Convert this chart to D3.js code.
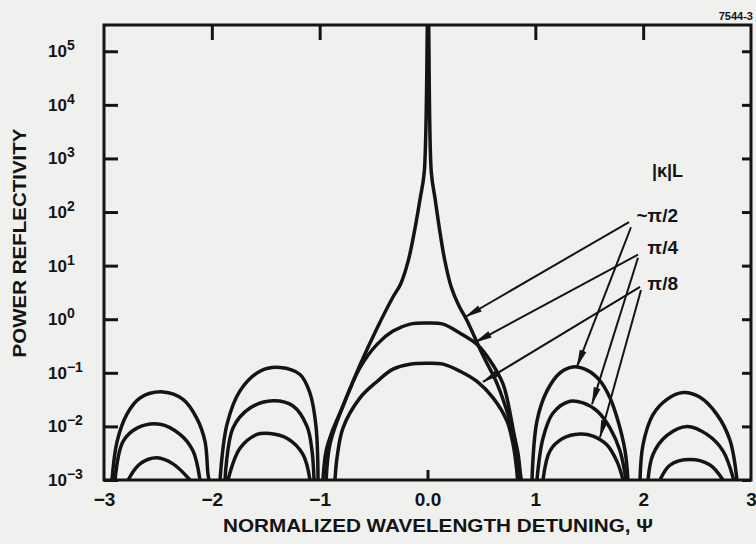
<!DOCTYPE html>
<html>
<head>
<meta charset="utf-8">
<script src="https://cdn.jsdelivr.net/npm/d3@7"></script>
<style>
    body { margin: 0; background: #f0f0ee; }
    svg { display: block; font-family: 'Liberation Sans', Arial, sans-serif; font-weight: bold; }
</style>
</head>
<body>
<svg id="drawing_region"></svg>
<script>
// tick values and labels
const psiTicks = [-3, -2, -1, 0, 1, 2, 3];
const psiTickLabels = ['\u22123', '\u22122', '\u22121', '0.0', '1', '2', '3'];
const reflTicks = [1e-3, 1e-2, 1e-1, 1e0, 1e1, 1e2, 1e3, 1e4, 1e5];
const reflExponents = ['\u22123', '\u22122', '\u22121', '0', '1', '2', '3', '4', '5'];

// |k|L values for the three curves
const kappaL = ['~\u03c0/2', '\u03c0/4', '\u03c0/8'];

// each curve, lobe by lobe: [psi, reflectivity]
const curvePi2 = [
    [[-2.926, 0.001], [-2.879, 0.0052], [-2.787, 0.017], [-2.666, 0.034], [-2.453, 0.044], [-2.267, 0.032], [-2.138, 0.014], [-2.063, 0.0052], [-2.036, 0.0013], [-2.026, 0.001]],
    [[-1.924, 0.001], [-1.859, 0.011], [-1.739, 0.046], [-1.553, 0.107], [-1.368, 0.126], [-1.182, 0.093], [-1.090, 0.042], [-1.034, 0.010], [-1.015, 0.001]],
    [[-0.970, 0.001], [-0.940, 0.0035], [-0.880, 0.0085], [-0.784, 0.024], [-0.626, 0.14], [-0.468, 0.68], [-0.320, 2.6], [-0.250, 4.5], [-0.180, 12], [-0.120, 45], [-0.070, 170], [-0.030, 560], [0.005, 1e6], [0.035, 560], [0.070, 178], [0.110, 50], [0.160, 12.6], [0.220, 4.0], [0.290, 1.8], [0.366, 0.95], [0.515, 0.21], [0.645, 0.063], [0.765, 0.0126], [0.835, 0.0035], [0.862, 0.0013], [0.870, 0.001]],
    [[0.969, 0.001], [1.015, 0.0126], [1.108, 0.046], [1.229, 0.100], [1.349, 0.129], [1.479, 0.112], [1.600, 0.071], [1.693, 0.034], [1.767, 0.0126], [1.832, 0.0035], [1.859, 0.001]],
    [[1.971, 0.001], [1.999, 0.0046], [2.091, 0.0166], [2.221, 0.032], [2.370, 0.043], [2.527, 0.035], [2.685, 0.0166], [2.805, 0.0055], [2.870, 0.001]]
];
const curvePi4 = [
    [[-2.898, 0.001], [-2.824, 0.0052], [-2.694, 0.0093], [-2.481, 0.011], [-2.295, 0.0071], [-2.175, 0.0035], [-2.110, 0.001]],
    [[-1.878, 0.001], [-1.804, 0.0093], [-1.646, 0.022], [-1.433, 0.030], [-1.247, 0.024], [-1.117, 0.010], [-1.071, 0.0035], [-1.052, 0.001]],
    [[-0.940, 0.001], [-0.904, 0.0047], [-0.784, 0.024], [-0.626, 0.125], [-0.468, 0.34], [-0.320, 0.60], [-0.162, 0.81], [-0.005, 0.85], [0.144, 0.81], [0.302, 0.55], [0.459, 0.34], [0.580, 0.17], [0.700, 0.062], [0.780, 0.0126], [0.825, 0.0035], [0.842, 0.0013], [0.850, 0.001]],
    [[1.015, 0.001], [1.071, 0.0060], [1.164, 0.0178], [1.322, 0.0295], [1.442, 0.0275], [1.572, 0.0195], [1.693, 0.0093], [1.785, 0.0035], [1.841, 0.001]],
    [[2.045, 0.001], [2.091, 0.0030], [2.221, 0.0068], [2.407, 0.0100], [2.592, 0.0071], [2.740, 0.0035], [2.840, 0.001]]
];
const curvePi8 = [
    [[-2.777, 0.001], [-2.666, 0.0020], [-2.508, 0.0026], [-2.360, 0.0020], [-2.202, 0.001]],
    [[-1.850, 0.001], [-1.739, 0.0039], [-1.581, 0.0071], [-1.461, 0.0074], [-1.303, 0.0060], [-1.155, 0.0030], [-1.090, 0.001]],
    [[-0.858, 0.001], [-0.839, 0.0026], [-0.784, 0.0093], [-0.626, 0.034], [-0.468, 0.069], [-0.320, 0.117], [-0.162, 0.145], [-0.005, 0.151], [0.144, 0.145], [0.302, 0.107], [0.459, 0.069], [0.608, 0.034], [0.737, 0.0126], [0.793, 0.0047], [0.825, 0.0017], [0.835, 0.001]],
    [[1.071, 0.001], [1.136, 0.0035], [1.257, 0.0060], [1.414, 0.0072], [1.535, 0.0066], [1.665, 0.0045], [1.758, 0.0022], [1.813, 0.001]],
    [[2.156, 0.001], [2.249, 0.0019], [2.434, 0.0024], [2.620, 0.0019], [2.740, 0.001]]
];

// leader arrows from the |k|L labels, in data units
const arrowFrom = [[1.869, 65], [1.887, 52], [1.952, 16], [1.952, 14], [1.971, 4.0], [1.980, 3.5]];
const arrowTo = [[0.35, 1.1], [1.386, 0.13], [0.441, 0.37], [1.526, 0.026], [0.515, 0.068], [1.600, 0.0063]];
const labelRefl = [65, 16.6, 3.5];


const width = 756, height = 544;
const frame = { left: 104, right: 751, top: 25, bottom: 480 };
const ink = '#141414';

const svg = d3.select('#drawing_region')
    .attr('width', width)
    .attr('height', height);

const x = d3.scaleLinear().domain([-3, 3]).range([frame.left, frame.right]);
const y = d3.scaleLog().domain([1e-3, Math.pow(10, 5.49)]).range([frame.bottom, frame.top]);

svg.append('defs').append('clipPath').attr('id', 'clip')
    .append('rect')
    .attr('x', frame.left).attr('y', frame.top)
    .attr('width', frame.right - frame.left).attr('height', frame.bottom - frame.top);

svg.append('marker')
    .attr('id', 'head')
    .attr('markerUnits', 'userSpaceOnUse')
    .attr('viewBox', '0 -4 18 8')
    .attr('markerWidth', 18).attr('markerHeight', 8)
    .attr('refX', 17).attr('refY', 0)
    .attr('orient', 'auto')
    .append('path')
    .attr('d', 'M0,-3.5L18,0L0,3.5Z')
    .attr('fill', ink);

// axes: ticks point inward, labels drawn separately
function styleAxis(g) {
    g.select('.domain').remove();
    g.selectAll('.tick line').attr('stroke', ink).attr('stroke-width', 3);
}

svg.append('g')
    .attr('transform', `translate(${frame.left},0)`)
    .call(d3.axisLeft(y).tickValues(reflTicks).tickSize(-14).tickFormat(''))
    .call(styleAxis);

svg.append('g')
    .attr('transform', `translate(${frame.right},0)`)
    .call(d3.axisRight(y).tickValues(reflTicks).tickSize(-9).tickFormat(''))
    .call(styleAxis);

svg.append('g')
    .attr('transform', `translate(0,${frame.top})`)
    .call(d3.axisTop(x).tickValues([-2, -1, 1, 2]).tickSize(-15).tickFormat(''))
    .call(styleAxis);

// only the centre tick shows on the bottom edge
svg.append('g')
    .attr('transform', `translate(0,${frame.bottom})`)
    .call(d3.axisBottom(x).tickValues([0]).tickSize(-10).tickFormat(''))
    .call(styleAxis);

const xAxis = svg.append('g')
    .attr('transform', `translate(0,${frame.bottom})`)
    .call(d3.axisBottom(x).tickValues(psiTicks).tickSize(0).tickPadding(13)
        .tickFormat((d, i) => psiTickLabels[i]))
    .call(styleAxis);
xAxis.selectAll('text')
    .attr('fill', ink)
    .attr('font-size', 19)
    .attr('font-family', "'Liberation Sans', Arial, sans-serif")
    .attr('font-weight', 'bold');

// y tick labels with superscript exponents
const yLabels = svg.append('g').attr('fill', ink);
reflTicks.forEach((t, i) => {
    const txt = yLabels.append('text')
        .attr('x', 48)
        .attr('y', y(t) + 6)
        .attr('font-size', 17);
    txt.append('tspan').text('10');
    txt.append('tspan')
        .attr('dy', -7)
        .attr('font-size', 14)
        .text(reflExponents[i]);
});

// frame
svg.append('rect')
    .attr('x', frame.left).attr('y', frame.top)
    .attr('width', frame.right - frame.left).attr('height', frame.bottom - frame.top)
    .attr('fill', 'none')
    .attr('stroke', ink)
    .attr('stroke-width', 3);

// curves
const line = d3.line()
    .x(d => x(d[0]))
    .y(d => y(d[1]))
    .curve(d3.curveCatmullRom.alpha(0.5));

const curves = svg.append('g').attr('clip-path', 'url(#clip)');
[curvePi2, curvePi4, curvePi8].forEach(lobes => {
    curves.selectAll(null)
        .data(lobes)
        .enter()
        .append('path')
        .attr('d', line)
        .attr('fill', 'none')
        .attr('stroke', ink)
        .attr('stroke-width', 3.5)
        .attr('stroke-linejoin', 'round');
});

// leader arrows
svg.append('g').selectAll('line')
    .data(arrowFrom)
    .enter()
    .append('line')
    .attr('x1', d => x(d[0]))
    .attr('y1', d => y(d[1]))
    .attr('x2', (d, i) => x(arrowTo[i][0]))
    .attr('y2', (d, i) => y(arrowTo[i][1]))
    .attr('stroke', ink)
    .attr('stroke-width', 2)
    .attr('marker-end', 'url(#head)');

// |k|L legend text
svg.append('text')
    .attr('x', x(2.37)).attr('y', y(447))
    .attr('text-anchor', 'end')
    .attr('font-size', 18)
    .attr('fill', ink)
    .text('|\u03ba|L');

svg.append('g').selectAll('text')
    .data(kappaL)
    .enter()
    .append('text')
    .attr('x', x(2.323))
    .attr('y', (d, i) => y(labelRefl[i]))
    .attr('text-anchor', 'end')
    .attr('font-size', 19)
    .attr('fill', ink)
    .text(d => d);

// titles
svg.append('text')
    .attr('transform', 'translate(26,243) rotate(-90)')
    .attr('text-anchor', 'middle')
    .attr('font-size', 18)
    .attr('textLength', 229)
    .attr('lengthAdjust', 'spacingAndGlyphs')
    .attr('fill', ink)
    .text('POWER REFLECTIVITY');

svg.append('text')
    .attr('x', 438).attr('y', 532)
    .attr('text-anchor', 'middle')
    .attr('font-size', 18)
    .attr('textLength', 430)
    .attr('lengthAdjust', 'spacingAndGlyphs')
    .attr('fill', ink)
    .text('NORMALIZED WAVELENGTH DETUNING, \u03a8');

svg.append('text')
    .attr('x', 753).attr('y', 20)
    .attr('text-anchor', 'end')
    .attr('font-size', 11)
    .attr('fill', ink)
    .text('7544-3');
</script>
</body>
</html>
